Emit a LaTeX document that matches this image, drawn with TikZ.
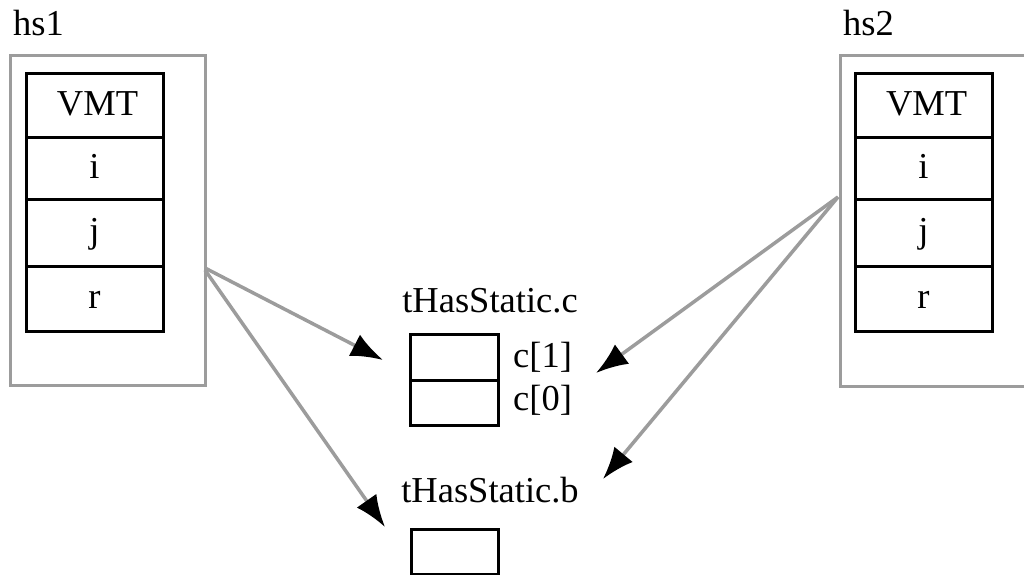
\documentclass[tikz,border=0pt]{standalone}
\usepackage{fontspec}
\setmainfont{Liberation Serif}
\usetikzlibrary{arrows.meta}
\definecolor{linegray}{HTML}{9C9C9C}
\begin{document}
\begin{tikzpicture}[x=1pt,y=-1pt,
  every node/.style={font=\fontsize{36.5}{40}\selectfont},
  outerbox/.style={draw=linegray, line width=3pt, inner sep=0pt, minimum width=195pt, minimum height=330pt},
  cell/.style={draw=black, line width=3pt, inner sep=0pt, minimum width=137pt, text height=25pt, text depth=5pt},
  slot/.style={draw=black, line width=3pt, inner sep=0pt, minimum width=88pt},
  lbl/.style={inner sep=0pt},
  ptr/.style={draw=linegray, line width=3.5pt, -{Latex[length=32pt,width=24pt,color=black]}}
]
\useasboundingbox (0,0) rectangle (1024,574);
% hs1
\node[lbl, anchor=base west] (hs1lbl) at (13,35) {hs1};
\node[outerbox] (hs1box) at (107.5,220) {};
\node[cell, minimum height=64pt] (l1) at (94.5,105) {\,VMT};
\node[cell, minimum height=62pt] (l2) at (94.5,168) {i};
\node[cell, minimum height=67pt] (l3) at (94.5,232.5) {j};
\node[cell, minimum height=65pt] (l4) at (94.5,298.5) {r};
% hs2
\node[lbl, anchor=base west] (hs2lbl) at (843,35) {hs2};
\node[outerbox, minimum height=331pt] (hs2box) at (937.5,220.5) {};
\node[cell, minimum height=64pt] (r1) at (923.5,105) {\,VMT};
\node[cell, minimum height=62pt] (r2) at (923.5,168) {i};
\node[cell, minimum height=67pt] (r3) at (923.5,232.5) {j};
\node[cell, minimum height=65pt] (r4) at (923.5,298.5) {r};
% tHasStatic.c
\node[lbl, anchor=base] (clbl) at (490,312) {tHasStatic.c};
\node[slot, minimum height=46pt] (c1) at (454,357) {};
\node[slot, minimum height=45pt] (c0) at (454,402.5) {};
\node[lbl, anchor=base west] (c1lbl) at (513,367) {c[1]};
\node[lbl, anchor=base west] (c0lbl) at (513,410) {c[0]};
% tHasStatic.b
\node[lbl, anchor=base] (blbl) at (490,502) {tHasStatic.b};
\node[slot, minimum width=87pt, minimum height=45pt] (bb) at (454.5,551.5) {};
% connector ends
\coordinate (s1) at (205,268);
\coordinate (s2) at (205,270);
\coordinate (s3) at (838,197);
\coordinate (t1) at (383,360);
\coordinate (t2) at (385,527);
\coordinate (t3) at (596,373);
\coordinate (t4) at (603,479);
\draw[ptr] (s1) -- (t1);
\draw[ptr] (s2) -- (t2);
\draw[ptr] (s3) -- (t3);
\draw[ptr] (s3) -- (t4);
\end{tikzpicture}
\end{document}
